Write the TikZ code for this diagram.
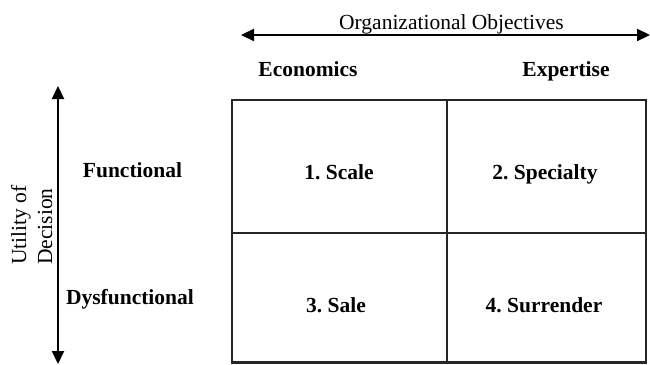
\documentclass[tikz,border=0pt]{standalone}
\usepackage{fontspec}
\setmainfont{Liberation Serif}
\usetikzlibrary{arrows.meta}
\frenchspacing
\begin{document}
\begin{tikzpicture}[x=1pt,y=-1pt,
  axis/.style={line width=2.2pt,{Triangle[length=13pt,width=12pt]}-{Triangle[length=13pt,width=12pt]}},
  gridline/.style={line width=2.4pt,black!85},
  lab/.style={font=\fontsize{21.5}{24}\selectfont\bfseries,anchor=base,inner sep=0pt},
  reg/.style={font=\fontsize{21.5}{24}\selectfont,anchor=base,inner sep=0pt},
  cell/.style={font=\fontsize{21.5}{24}\selectfont\bfseries,anchor=base,inner sep=0pt}]
\useasboundingbox (0,0) rectangle (650,364);
% coordinates
\coordinate (hl) at (241,35);
\coordinate (hr) at (650,35);
\coordinate (vt) at (58,86);
\coordinate (vb) at (58,364);
\coordinate (tl) at (232,100);
\coordinate (br) at (646,362.5);
\coordinate (mt) at (447,100);
\coordinate (mb) at (447,362.5);
\coordinate (ml) at (232,233);
\coordinate (mr) at (646,233);
% axes
\draw[axis] (hl) -- (hr);
\draw[axis] (vt) -- (vb);
% grid
\draw[gridline] (tl) rectangle (br);
\draw[gridline] (mt) -- (mb);
\draw[gridline] (ml) -- (mr);
% labels
\node[reg] (org) at (451.5,29) {Organizational Objectives};
\node[lab] (eco) at (308,76) {Economics};
\node[lab] (exp) at (566,76) {Expertise};
\node[lab] (fun) at (132.5,177) {Functional};
\node[lab] (dys) at (130,304) {Dysfunctional};
\node[reg,rotate=90,anchor=base west] (util) at (26,265) {Utility of};
\node[reg,rotate=90,anchor=base west] (dec) at (52,265) {Decision};
% cells
\node[cell] (c1) at (339,179) {1. Scale};
\node[cell] (c2) at (545,179) {2. Specialty};
\node[cell] (c3) at (336,312) {3. Sale};
\node[cell] (c4) at (544,312) {4. Surrender};
\end{tikzpicture}
\end{document}
